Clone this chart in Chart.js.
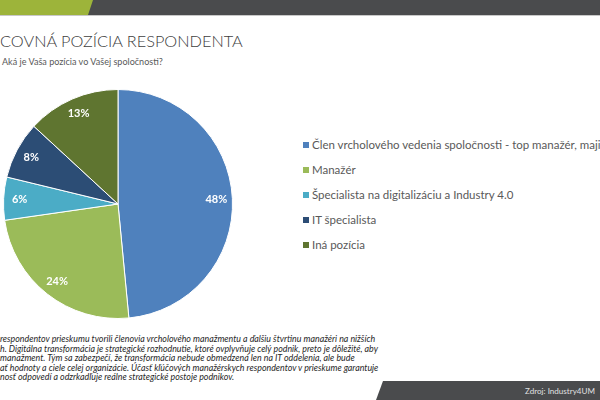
<!DOCTYPE html>
<html>
<head>
<meta charset="utf-8">
<title>Pracovná pozícia respondenta</title>
<script src="https://cdn.jsdelivr.net/npm/chart.js"></script>
<style>
  html, body { margin:0; padding:0; background:#fff; }
  #page { position:relative; width:600px; height:400px; overflow:hidden; font-family: Lato, "Open Sans", sans-serif; }
  .abs { position:absolute; white-space:nowrap; line-height:1; }
  #hdrGreen { left:0; top:0; width:100px; height:15px; background:#9db43a; position:absolute; }
  #hdrGray { left:86px; top:0; width:514px; height:15px; background:#4a4b4d; position:absolute;
             clip-path: polygon(7px 0, 100% 0, 100% 100%, 2px 100%); }
  #hdrLine { left:0; top:15px; width:600px; height:1px; background:#c8c8c8; position:absolute; }
  #title { left:0; top:33px; font-size:19px; color:#404040; font-weight:300; }
  #subtitle { left:2px; top:57px; font-size:9px; color:#595959; }
  #chartBox { position:absolute; left:0; top:85px; width:240px; height:240px; }
  #legend { position:absolute; left:303px; top:0; }
  .lg { position:absolute; white-space:nowrap; font-size:11px; color:#595959; line-height:1; }
  .lg i { display:inline-block; width:6px; height:6px; margin-right:3px; vertical-align:1px; }
  #para { position:absolute; left:0; top:334px; font-style:italic; font-size:8px; color:#262626; }
  #para div { height:9.6px; line-height:9.6px; white-space:nowrap; }
  #foot { position:absolute; left:376px; top:381px; width:224px; height:19px; background:#4a4b4d;
          clip-path: polygon(7px 0, 100% 0, 100% 100%, 0 100%); }
  #src { right:5px; top:387px; font-size:8px; color:#e0e0e0; }
</style>
</head>
<body>
<div id="page">
  <div id="hdrGreen"></div>
  <div id="hdrGray"></div>
  <div id="hdrLine"></div>
  <div id="title" class="abs">COVNÁ POZÍCIA RESPONDENTA</div>
  <div id="subtitle" class="abs">Aká je Vaša pozícia vo Vašej spoločnosti?</div>
  <div id="chartBox"><canvas id="pie" width="240" height="240"></canvas></div>
  <div id="legend"></div>
  <div id="para"></div>
  <div id="foot"></div>
  <div id="src" class="abs">Zdroj: Industry4UM</div>
</div>
<script>
// data
const labels = [
  "Člen vrcholového vedenia spoločnosti - top manažér, majiteľ",
  "Manažér",
  "Špecialista na digitalizáciu a Industry 4.0",
  "IT špecialista",
  "Iná pozícia"
];
const values = [48, 24, 6, 8, 13];
const colors = ["#4f81bd", "#9bbb59", "#4bacc6", "#2c4d75", "#5f7530"];

const paraLines = [
  " respondentov prieskumu tvorili členovia vrcholového manažmentu a ďalšiu štvrtinu manažéri na nižších",
  "h. Digitálna transformácia je strategické rozhodnutie, ktoré ovplyvňuje celý podnik, preto je dôležité, aby",
  "manažment. Tým sa zabezpečí, že transformácia nebude obmedzená len na IT oddelenia, ale bude",
  "ať hodnoty a ciele celej organizácie. Účasť kľúčových manažérskych respondentov v prieskume garantuje",
  "nosť odpovedí a odzrkadľuje reálne strategické postoje podnikov."
];

// percentá do výsekov
const pctLabels = {
  id: "pctLabels",
  afterDatasetsDraw(chart) {
    const ctx = chart.ctx;
    const meta = chart.getDatasetMeta(0);
    ctx.save();
    ctx.fillStyle = "#ffffff";
    ctx.font = "bold 11px Lato, sans-serif";
    ctx.textAlign = "center";
    ctx.textBaseline = "middle";
    meta.data.forEach((arc, i) => {
      const p = arc.getProps(["x", "y", "startAngle", "endAngle", "outerRadius"], true);
      const a = (p.startAngle + p.endAngle) / 2;
      const r = p.outerRadius * 0.86;
      ctx.fillText(values[i] + "%", p.x + Math.cos(a) * r, p.y + Math.sin(a) * r);
    });
    ctx.restore();
  }
};

const chart = new Chart(document.getElementById("pie"), {
  type: "pie",
  data: {
    labels: labels,
    datasets: [{
      data: values,
      backgroundColor: colors,
      borderColor: "#ffffff",
      borderWidth: 1
    }]
  },
  options: {
    responsive: false,
    animation: false,
    layout: { padding: { left: 3, right: 7, top: 4, bottom: 6 } },
    plugins: { legend: { display: false }, tooltip: { enabled: false } }
  },
  plugins: [pctLabels]
});

// legenda
const legend = document.getElementById("legend");
labels.forEach((l, i) => {
  const d = document.createElement("div");
  d.className = "lg";
  d.style.top = (139 + i * 25) + "px";
  d.innerHTML = '<i style="background:' + colors[i] + '"></i>';
  d.appendChild(document.createTextNode(l));
  legend.appendChild(d);
});

const para = document.getElementById("para");
paraLines.forEach(t => {
  const d = document.createElement("div");
  d.textContent = t;
  para.appendChild(d);
});

// prispôsobiť šírku textu podľa predlohy
function fit(el, w) {
  el.style.display = "inline-block";
  const cur = el.getBoundingClientRect().width;
  const fs = parseFloat(getComputedStyle(el).fontSize);
  el.style.fontSize = (fs * w / cur) + "px";
}
fit(document.getElementById("title"), 243);
fit(document.getElementById("subtitle"), 161);
const pl = para.children[1];
fit(pl, 378);
para.style.fontSize = pl.style.fontSize;
pl.style.fontSize = "";
pl.style.display = "";
const lgItems = legend.children;
fit(lgItems[2], 211);
const lfs = lgItems[2].style.fontSize;
for (const it of lgItems) it.style.fontSize = lfs;
fit(document.getElementById("src"), 70);
</script>
</body>
</html>
